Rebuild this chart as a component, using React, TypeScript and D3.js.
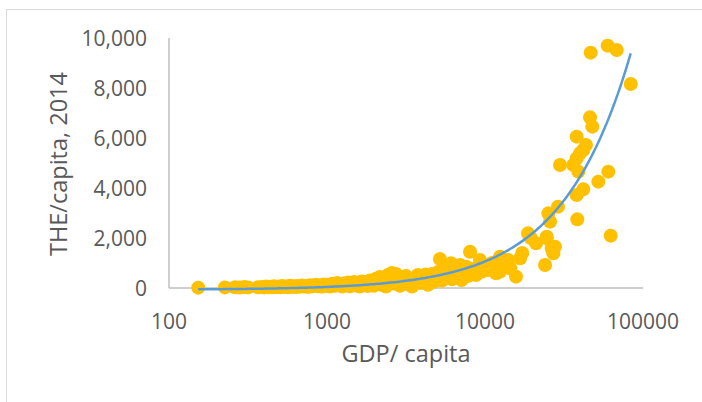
import React from "react";
import * as d3 from "d3";

// GDP per capita (x) and total health expenditure per capita, 2014 (y)
const gdp: number[] = [
  153, 226, 262, 280, 300, 316,
  366, 388, 400, 411, 425, 436, 450, 462, 475, 490, 505, 519, 535, 550, 565, 583, 600, 618, 636, 655, 675, 695, 715, 736, 760, 780, 805, 827, 850, 877, 900, 929, 955, 985,
  1010, 1045, 1080, 1124, 1160, 1208, 1250, 1282, 1320, 1358, 1400, 1439, 1480, 1527, 1570, 1618, 1660, 1714, 1760, 1816, 1870, 1928, 1980, 2042,
  2100, 2163, 2230, 2296, 2360, 2432, 2500, 2576, 2650, 2735, 2810, 2897, 2980, 3069, 3160, 3258, 3350, 3451, 3550, 3656, 3760, 3881, 4000, 4111, 4230, 4355, 4490, 4624, 4750, 4898,
  5188, 5050, 5350, 5508, 5680, 5834, 6100, 6180, 6546, 6950, 7100, 7362, 7600, 7798, 8040, 8400, 8770, 9290, 9600, 9863,
  10450, 11070, 11750, 12450, 12450, 13180, 14000, 14500, 15710, 16670, 17200, 18710, 19500, 21040,
  23990, 24570, 25170, 25800, 26420, 27080, 28970, 29850, 36220, 38040, 38040, 38040, 38380, 38990, 39900, 41880, 41880, 43550, 46200, 47760, 46650, 52140, 59760, 60290, 62460, 68170, 83600,
  24570, 27730,
];
const the: number[] = [
  15, 25, 30, 20, 40, 25,
  30, 45, 25, 60, 35, 50, 30, 70, 40, 55, 30, 80, 45, 60, 35, 90, 50, 70, 40, 85, 55, 100, 60, 75, 45, 110, 65, 90, 130, 70, 105, 55, 140, 90,
  120, 60, 170, 90, 200, 130, 60, 180, 110, 220, 70, 150, 240, 100, 190, 60, 260, 130, 220, 80, 300, 160, 90, 370,
  200, 440, 120, 280, 60, 520, 340, 600, 180, 560, 420, 90, 250, 330, 480, 160, 300, 60, 240, 380, 520, 200, 430, 300, 540, 130, 360, 560, 250, 450,
  1160, 640, 300, 800, 500, 420, 987, 350, 700, 920, 320, 600, 850, 480, 1450, 760, 520, 1120, 660, 900,
  720, 1000, 587, 1253, 653, 900, 1120, 780, 453, 1187, 1400, 2187, 2000, 1787,
  920, 2053, 2987, 2653, 1587, 1387, 3253, 4920, 4920, 5187, 3720, 6053, 2747, 4653, 5387, 3947, 5520, 5720, 6827, 6453, 9413, 4253, 9693, 4653, 2093, 9520, 8160,
  1987, 1653,
];

// Linear trendline: THE = trendIntercept + trendSlope * GDP
const trendIntercept = -70;
const trendSlope = 0.1131;
const trendRange: [number, number] = [153, 83600];

const yTicks: number[] = [0, 2000, 4000, 6000, 8000, 10000];
const xTicks: number[] = [100, 1000, 10000, 100000];

const xTitle = "GDP/ capita";
const yTitle = "THE/capita, 2014";

export default function App() {
  const W = 702;
  const H = 402;
  const x = d3.scaleLog().domain([100, 100000]).range([169, 643]);
  const y = d3.scaleLinear().domain([0, 10000]).range([288, 38]);

  const pts = gdp.map((g, i) => ({ g, t: the[i] }));

  const samples = d3.range(0, 201).map((i) => {
    const lg = Math.log10(trendRange[0]) + (i / 200) * (Math.log10(trendRange[1]) - Math.log10(trendRange[0]));
    const g = Math.pow(10, lg);
    return { g, t: trendIntercept + trendSlope * g };
  });
  const line = d3
    .line<{ g: number; t: number }>()
    .x((d) => x(d.g))
    .y((d) => y(d.t));

  const fmt = d3.format(",");
  const font = "'Open Sans', 'Liberation Sans', sans-serif";
  const textColor = "#595959";

  return (
    <div style={{ position: "absolute", left: 0, top: 0 }}>
      <svg width={W} height={H} style={{ display: "block", background: "#fff" }}>
        <line x1={6.5} y1={9.5} x2={W} y2={9.5} stroke="#D9D9D9" strokeWidth={1} />
        <line x1={6.5} y1={9.5} x2={6.5} y2={H} stroke="#D9D9D9" strokeWidth={1} />

        {/* axes */}
        <line x1={x(100)} y1={y(10000)} x2={x(100)} y2={y(0)} stroke="#BFBFBF" strokeWidth={1.5} />
        <line x1={x(100)} y1={y(0)} x2={x(100000)} y2={y(0)} stroke="#BFBFBF" strokeWidth={1.5} />

        {yTicks.map((t) => (
          <text
            key={"y" + t}
            x={147}
            y={y(t)}
            textAnchor="end"
            dominantBaseline="central"
            fontFamily={font}
            fontSize={21}
            fill={textColor}
          >
            {fmt(t)}
          </text>
        ))}
        {xTicks.map((t) => (
          <text
            key={"x" + t}
            x={x(t)}
            y={321}
            textAnchor="middle"
            dominantBaseline="central"
            fontFamily={font}
            fontSize={21}
            fill={textColor}
          >
            {String(t)}
          </text>
        ))}

        {pts.map((p, i) => (
          <circle key={i} cx={x(p.g)} cy={y(p.t)} r={7} fill="#FFC000" />
        ))}

        <path d={line(samples) || ""} fill="none" stroke="#5B9BD5" strokeWidth={2.5} />

        <text
          x={406}
          y={353}
          textAnchor="middle"
          dominantBaseline="central"
          fontFamily={font}
          fontSize={23.5}
          fill={textColor}
        >
          {xTitle}
        </text>
        <text
          transform={`translate(58,164) rotate(-90)`}
          textAnchor="middle"
          dominantBaseline="central"
          fontFamily={font}
          fontSize={23.5}
          fill={textColor}
        >
          {yTitle}
        </text>
      </svg>
    </div>
  );
}
